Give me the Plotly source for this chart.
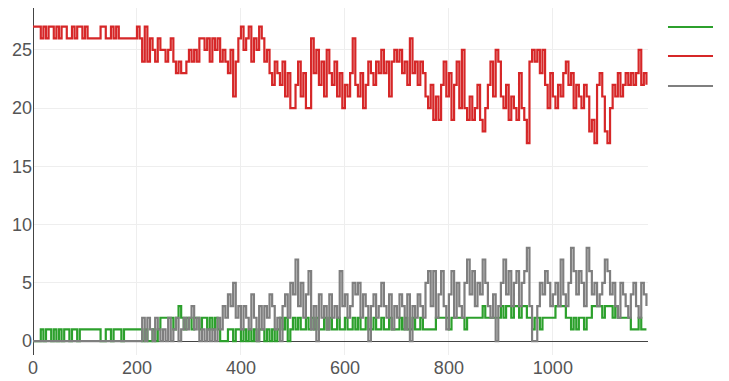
import plotly.graph_objects as go

STEP = 5
x_vals = list(range(0, 1181, STEP))

red_lt = [
    27, 27, 27, 26, 27, 26, 27, 27, 26, 27, 26, 27, 27, 26, 26, 27, 26, 27, 27, 26,
    27, 26, 26, 26, 26, 26, 27, 27, 26, 26, 27, 26, 27, 26, 26, 26, 26, 26, 26, 26,
    27, 26, 24, 27, 24, 26, 25, 24, 26, 25, 25, 24, 25, 26, 24, 23, 24, 23, 23, 24,
    25, 24, 25, 24, 26, 26, 25, 26, 24, 26, 25, 26, 24, 25, 24, 23, 25, 21, 24, 26,
    27, 25, 26, 27, 24, 26, 25, 27, 26, 24, 25, 23, 22, 24, 23, 22, 24, 21, 23, 20,
    20, 22, 24, 21, 23, 20, 20, 26, 23, 25, 22, 24, 21, 25, 23, 22, 24, 21, 23, 20,
    22, 21, 23, 26, 22, 21, 23, 20, 22, 24, 23, 22, 24, 23, 25, 23, 24, 21, 24, 25,
    24, 25, 23, 24, 22, 26, 23, 24, 22, 24, 23, 21, 20, 22, 19, 21, 19, 22, 24, 21,
    23, 19, 22, 24, 20, 25, 20, 19, 21, 19, 20, 22, 19, 18, 20, 22, 24, 21, 25, 24,
    21, 20, 22, 19, 21, 20, 19, 23, 20, 19, 17, 24, 25, 24, 25, 23, 25, 22, 20, 23,
    21, 20, 22, 21, 23, 24, 22, 23, 20, 22, 21, 20, 22, 21, 18, 19, 17, 22, 23, 21,
    18, 17, 20, 22, 21, 23, 21, 22, 23, 22, 23, 22, 23, 25, 22, 23, 22,
]

green_gt = [
    0, 0, 0, 1, 0, 1, 1, 0, 1, 0, 1, 0, 1, 1, 0, 1, 1, 0, 1, 1,
    1, 1, 1, 1, 1, 1, 0, 0, 1, 1, 0, 1, 1, 1, 0, 1, 1, 1, 1, 1,
    1, 1, 0, 1, 0, 0, 1, 0, 1, 2, 2, 2, 2, 2, 1, 2, 3, 2, 1, 2,
    2, 1, 2, 2, 1, 2, 2, 1, 2, 1, 2, 1, 0, 0, 0, 1, 1, 0, 1, 1,
    0, 1, 0, 1, 0, 1, 0, 1, 1, 0, 1, 0, 1, 0, 1, 2, 1, 2, 0, 1,
    2, 1, 2, 1, 1, 2, 1, 2, 1, 2, 1, 1, 2, 1, 2, 1, 1, 2, 1, 1,
    2, 1, 1, 2, 1, 2, 1, 1, 2, 1, 1, 2, 1, 1, 2, 1, 1, 2, 1, 1,
    1, 2, 1, 2, 1, 1, 2, 1, 1, 2, 1, 1, 1, 1, 1, 2, 2, 2, 2, 2,
    1, 2, 2, 2, 2, 2, 1, 2, 2, 2, 2, 2, 2, 3, 2, 2, 2, 2, 2, 2,
    3, 2, 3, 3, 2, 3, 3, 2, 3, 3, 2, 2, 1, 2, 2, 1, 2, 2, 2, 2,
    2, 3, 3, 3, 3, 2, 2, 1, 2, 1, 2, 2, 1, 2, 2, 3, 3, 3, 3, 2,
    3, 3, 3, 2, 3, 2, 2, 2, 2, 2, 1, 1, 1, 2, 1, 1, 1,
]

gray_eq = [
    0, 0, 0, 0, 0, 0, 0, 0, 0, 0, 0, 0, 0, 0, 0, 0, 0, 0, 0, 0,
    0, 0, 0, 0, 0, 0, 0, 0, 0, 0, 0, 0, 0, 0, 0, 0, 0, 0, 0, 0,
    0, 0, 2, 0, 2, 1, 0, 2, 1, 0, 1, 0, 2, 0, 1, 2, 0, 1, 2, 1,
    2, 3, 1, 2, 0, 1, 0, 1, 0, 1, 0, 2, 1, 3, 2, 4, 3, 5, 2, 3,
    1, 3, 2, 1, 4, 2, 0, 3, 1, 3, 2, 4, 3, 1, 2, 0, 3, 4, 2, 5,
    4, 7, 3, 5, 2, 4, 6, 1, 3, 0, 4, 2, 3, 1, 4, 2, 3, 2, 6, 3,
    4, 2, 3, 5, 4, 5, 2, 4, 3, 0, 3, 4, 2, 3, 5, 3, 2, 4, 1, 3,
    2, 4, 3, 1, 4, 0, 3, 2, 4, 3, 2, 5, 6, 3, 6, 2, 4, 6, 3, 1,
    4, 6, 2, 5, 3, 2, 5, 7, 4, 6, 3, 5, 4, 7, 5, 3, 2, 4, 0, 3,
    5, 7, 4, 6, 3, 5, 6, 3, 5, 6, 8, 3, 0, 0, 3, 5, 4, 6, 5, 3,
    4, 5, 3, 7, 4, 3, 5, 8, 6, 4, 6, 5, 3, 8, 6, 4, 5, 3, 4, 5,
    7, 6, 4, 5, 3, 2, 5, 4, 3, 2, 4, 5, 3, 2, 5, 4, 3,
]

series_names = [">", "<", "="]
series_colors = ["#2ca02c", "#d62728", "#7f7f7f"]
series_values = [green_gt, red_lt, gray_eq]

fig = go.Figure()
for name, vals, color in zip(series_names, series_values, series_colors):
    fig.add_trace(go.Scatter(
        x=x_vals, y=vals, name=name, mode="lines",
        line=dict(color=color, width=2.2, shape="hv"),
    ))

# Legend drawn as sample lines + text to the right of the plot (cut by the window edge)
legend_rows_y = [0.9452, 0.8617, 0.7752]
for name, color, ly in zip(series_names, series_colors, legend_rows_y):
    fig.add_shape(type="line", xref="paper", yref="paper",
                  x0=1.0325, x1=1.1057, y0=ly, y1=ly,
                  line=dict(color=color, width=2.2))
    fig.add_annotation(xref="paper", yref="paper", x=1.1163, y=ly,
                       xanchor="left", yanchor="middle", showarrow=False,
                       text=name, font=dict(size=18, color="#555"))

fig.update_layout(
    width=760, height=373,
    margin=dict(l=25, r=120, t=0, b=26, autoexpand=False),
    paper_bgcolor="white", plot_bgcolor="white",
    font=dict(family="Liberation Sans, Arial, sans-serif", size=18, color="#555"),
    showlegend=False,
)
fig.update_xaxes(range=[0, 1183], dtick=200, showgrid=True, gridcolor="#eee",
                 zeroline=True, zerolinecolor="#444", zerolinewidth=1,
                 showline=False, ticks="")
fig.update_yaxes(range=[-1.2, 28.6], dtick=5, showgrid=True, gridcolor="#eee",
                 zeroline=True, zerolinecolor="#444", zerolinewidth=1,
                 showline=False, ticks="")

fig.write_html(
    "out.html",
    post_script="document.documentElement.style.overflow='hidden';"
                "document.body.style.overflow='hidden';",
)
